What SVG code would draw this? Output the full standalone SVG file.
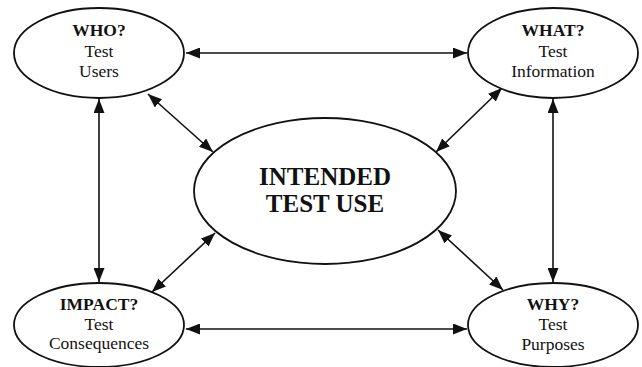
<svg xmlns="http://www.w3.org/2000/svg" width="642" height="367" viewBox="0 0 642 367">
<defs>
<marker id="ah" viewBox="0 0 14 11" refX="14" refY="5.5" markerWidth="14" markerHeight="11" markerUnits="userSpaceOnUse" orient="auto-start-reverse">
<path d="M0,0 L14,5.5 L0,11 Z" fill="#111"/>
</marker>
</defs>
<style>
.n{fill:#fff;stroke:#111;stroke-width:1.8}
.c line{stroke:#111;stroke-width:1.6;marker-start:url(#ah);marker-end:url(#ah)}
text{font-family:"Liberation Serif","Times New Roman",serif;fill:#111;text-anchor:middle}
.s{font-size:17.5px}
.b{font-weight:bold}
.big{font-size:25px;font-weight:bold}
</style>
<rect width="642" height="367" fill="#fff"/>
<g class="c" id="connectors">
<line x1="186" y1="53" x2="467" y2="53"/>
<line x1="186" y1="329" x2="467" y2="329"/>
<line x1="99" y1="99" x2="99" y2="282"/>
<line x1="553" y1="99" x2="553" y2="282"/>
<line x1="148" y1="94" x2="213" y2="152"/>
<line x1="502" y1="88" x2="436" y2="152"/>
<line x1="152" y1="292" x2="215" y2="233"/>
<line x1="503" y1="290" x2="438" y2="230"/>
</g>
<g id="who">
<ellipse class="n" cx="99" cy="53" rx="85" ry="45"/>
<text class="s b" x="99" y="36">WHO?</text>
<text class="s" x="99" y="57">Test</text>
<text class="s" x="99" y="77">Users</text>
</g>
<g id="what">
<ellipse class="n" cx="553" cy="53" rx="85" ry="45"/>
<text class="s b" x="553" y="36">WHAT?</text>
<text class="s" x="553" y="57">Test</text>
<text class="s" x="553" y="77">Information</text>
</g>
<g id="center">
<ellipse class="n" cx="325" cy="191" rx="131" ry="73"/>
<text class="big" x="325" y="185">INTENDED</text>
<text class="big" x="325" y="212">TEST USE</text>
</g>
<g id="impact">
<ellipse class="n" cx="99" cy="325" rx="85" ry="42"/>
<text class="s b" x="99" y="310">IMPACT?</text>
<text class="s" x="99" y="330">Test</text>
<text class="s" x="99" y="349">Consequences</text>
</g>
<g id="why">
<ellipse class="n" cx="553" cy="325" rx="85" ry="42"/>
<text class="s b" x="553" y="310">WHY?</text>
<text class="s" x="553" y="330">Test</text>
<text class="s" x="553" y="350">Purposes</text>
</g>
</svg>
